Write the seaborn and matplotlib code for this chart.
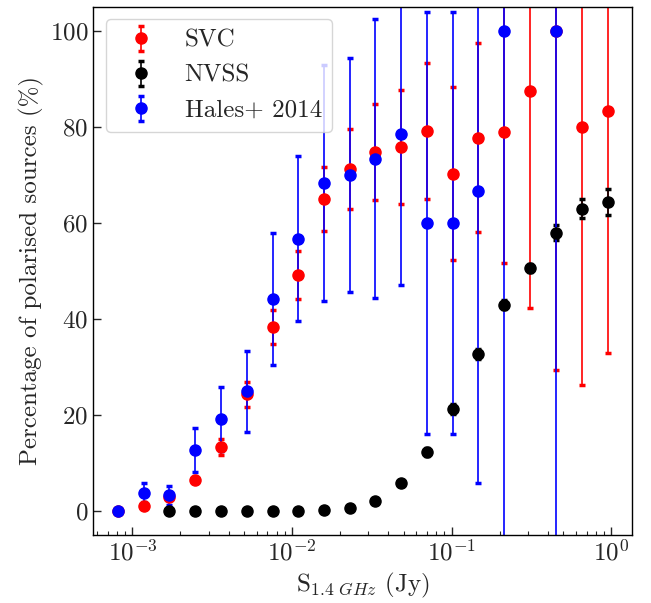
import numpy as np
import matplotlib
matplotlib.use('Agg')
import matplotlib.pyplot as plt
import seaborn as sns

# flux bins (Jy)
flux = [8.1e-4, 1.18e-3, 1.70e-3, 2.46e-3, 3.60e-3, 5.24e-3, 7.55e-3, 1.09e-2,
        1.58e-2, 2.29e-2, 3.33e-2, 4.80e-2, 6.98e-2, 0.1016, 0.147, 0.213,
        0.310, 0.451, 0.652, 0.945]

# SVC - all bins
svc_pct = [0, 1.0, 3.0, 6.4, 13.3, 24.3, 38.3, 49.1, 65.0, 71.2,
           74.7, 75.9, 79.2, 70.3, 77.8, 79.0, 87.5, 100, 80.0, 83.3]
svc_err = [0, 0, 0.5, 0.5, 1.7, 2.6, 3.6, 5.0, 6.6, 8.3,
           10.0, 11.9, 14.1, 18.0, 19.6, 27.3, 45.3, 70.7, 53.7, 50.3]

# NVSS - starts at the 3rd bin
nvss_flux = flux[2:]
nvss_pct = [0, 0, 0, 0, 0, 0, 0.15, 0.56, 2.08, 5.83,
            12.3, 21.2, 32.7, 43.0, 50.6, 58.0, 63.0, 64.3]
nvss_err = [0, 0, 0, 0, 0, 0, 0.1, 0.2, 0.4, 0.6,
            0.8, 1.0, 1.0, 0.9, 0.8, 1.5, 2.0, 2.7]

# Hales+ 2014 - no point in the 0.31 Jy bin and above 0.45 Jy
hales_flux = flux[:16] + [flux[17]]
hales_pct = [0, 3.8, 3.3, 12.7, 19.2, 24.9, 44.2, 56.7, 68.4, 70.0,
             73.4, 78.6, 60.0, 60.0, 66.7, 100, 100]
hales_err = [0, 2.0, 1.95, 4.5, 6.7, 8.4, 13.7, 17.2, 24.6, 24.4,
             29.1, 31.6, 43.9, 43.9, 60.8, 110, 110]

sns.set_style('ticks')
plt.rcParams['font.family'] = ['cmr10', 'DejaVu Serif']
plt.rcParams['mathtext.fontset'] = 'cm'
plt.rcParams['axes.formatter.use_mathtext'] = True
plt.rcParams['axes.unicode_minus'] = False
plt.rcParams['font.size'] = 18

fig = plt.figure(figsize=(6.51, 6.03), dpi=100)
ax = fig.add_axes([0.1433, 0.1128, 0.8275, 0.8756])

style = dict(fmt='o', ms=8, elinewidth=1.2, capsize=2, capthick=2.5)
ax.errorbar(flux, svc_pct, yerr=svc_err, color='red', label='SVC', **style)
ax.errorbar(nvss_flux, nvss_pct, yerr=nvss_err, color='black', label='NVSS', **style)
ax.errorbar(hales_flux, hales_pct, yerr=hales_err, color='blue', label='Hales+ 2014', **style)

ax.set_xscale('log')
ax.set_ylim(-5, 105)
ax.set_yticks([0, 20, 40, 60, 80, 100])
ax.set_xlabel(r'S$_{1.4\ GHz}$ (Jy)')
ax.set_ylabel('Percentage of polarised sources (%)')
ax.tick_params(which='major', direction='in', length=6, width=1, labelsize=18)
ax.tick_params(which='minor', direction='in', length=3, width=0.8)
for s in ax.spines.values():
    s.set_linewidth(1.0)
    s.set_color('black')

ax.legend(loc='upper left', fontsize=18, frameon=True, handletextpad=0.75,
          labelspacing=0.5)

fig.savefig('out.png', dpi=100)
